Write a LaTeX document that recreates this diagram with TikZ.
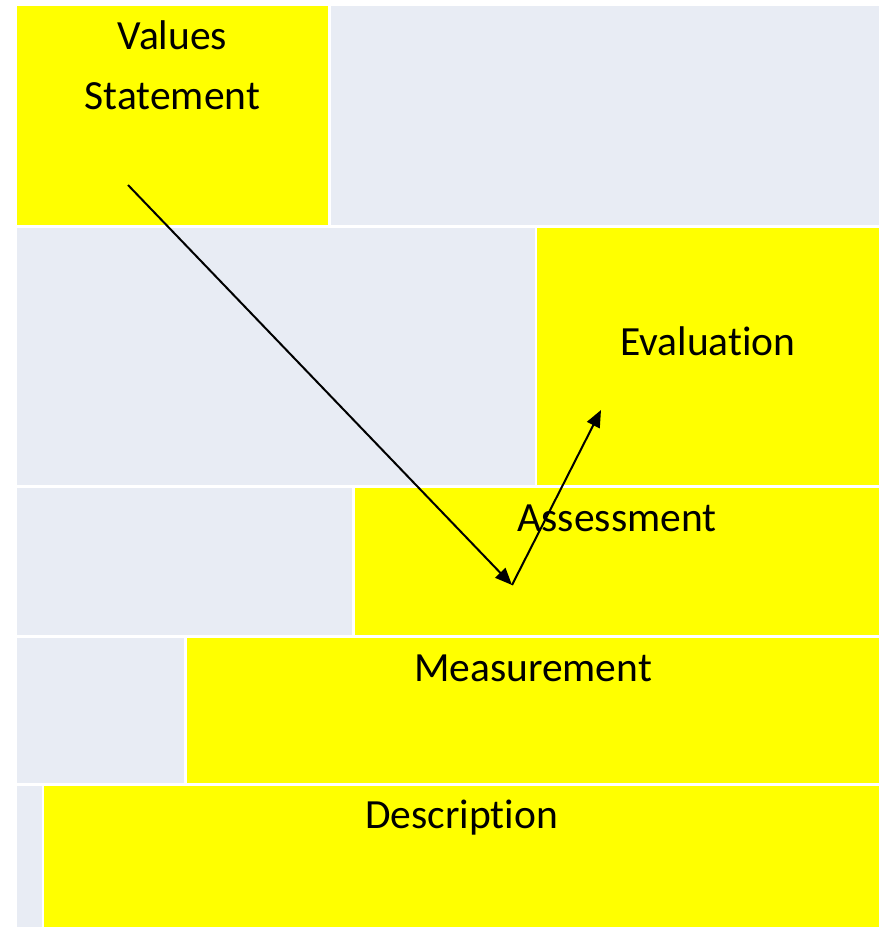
\documentclass[tikz,border=0pt]{standalone}
\usepackage{fontspec}
\setmainfont[Ligatures=NoCommon]{Carlito}
\usetikzlibrary{arrows.meta}
\definecolor{paleblue}{RGB}{232,236,244}
\definecolor{brightyellow}{RGB}{255,255,0}
% break the t-i pair so it is set as two separate letters
\newcommand{\tisep}{t\kern0pt i}
\tikzset{
  band/.style={draw=none, inner sep=0pt, outer sep=0pt, anchor=north west},
  hilite/.style={band, fill=brightyellow},
  plain/.style={band, fill=paleblue},
  label/.style={inner sep=0pt, anchor=base, font=\fontsize{41.5}{50}\selectfont, text=black},
  conn/.style={line width=2pt, -{Triangle[length=17pt,width=14pt]}}
}
\begin{document}
\begin{tikzpicture}[x=1pt,y=-1pt]
  \useasboundingbox (0,0) rectangle (881,927);
  \fill[white] (0,0) rectangle (881,927);

  % row 1
  \node[hilite, minimum width=311pt, minimum height=219pt] (vs) at (17,6) {};
  \node[plain,  minimum width=548pt, minimum height=219pt] (r1g) at (331,6) {};
  % row 2
  \node[plain,  minimum width=518pt, minimum height=257pt] (r2g) at (17,228) {};
  \node[hilite, minimum width=342pt, minimum height=257pt] (ev) at (537,228) {};
  % row 3
  \node[plain,  minimum width=335pt, minimum height=147pt] (r3g) at (17,488) {};
  \node[hilite, minimum width=524pt, minimum height=147pt] (as) at (355,488) {};
  % row 4
  \node[plain,  minimum width=167pt, minimum height=145pt] (r4g) at (17,638) {};
  \node[hilite, minimum width=692pt, minimum height=145pt] (me) at (187,638) {};
  % row 5
  \node[plain,  minimum width=25pt,  minimum height=141pt] (r5g) at (17,786) {};
  \node[hilite, minimum width=835pt, minimum height=141pt] (de) at (44,786) {};

  % labels
  \node[label] (vsA) at (172.5,49) {Values};
  \node[label] (vsB) at (172.5,109) {Statement};
  \node[label] (evT) at (708,355) {Evalua\tisep on};
  \node[label] (asT) at (617,531) {Assessment};
  \node[label] (meT) at (533,681.5) {Measurement};
  \node[label] (deT) at (461.5,828.5) {Descrip\tisep on};

  % arrows
  \coordinate (p0) at (128,185);
  \coordinate (p1) at (512,585);
  \coordinate (p2) at (601,410);
  \draw[conn] (p0) -- (p1);
  \draw[conn] (p1) -- (p2);
\end{tikzpicture}
\end{document}
